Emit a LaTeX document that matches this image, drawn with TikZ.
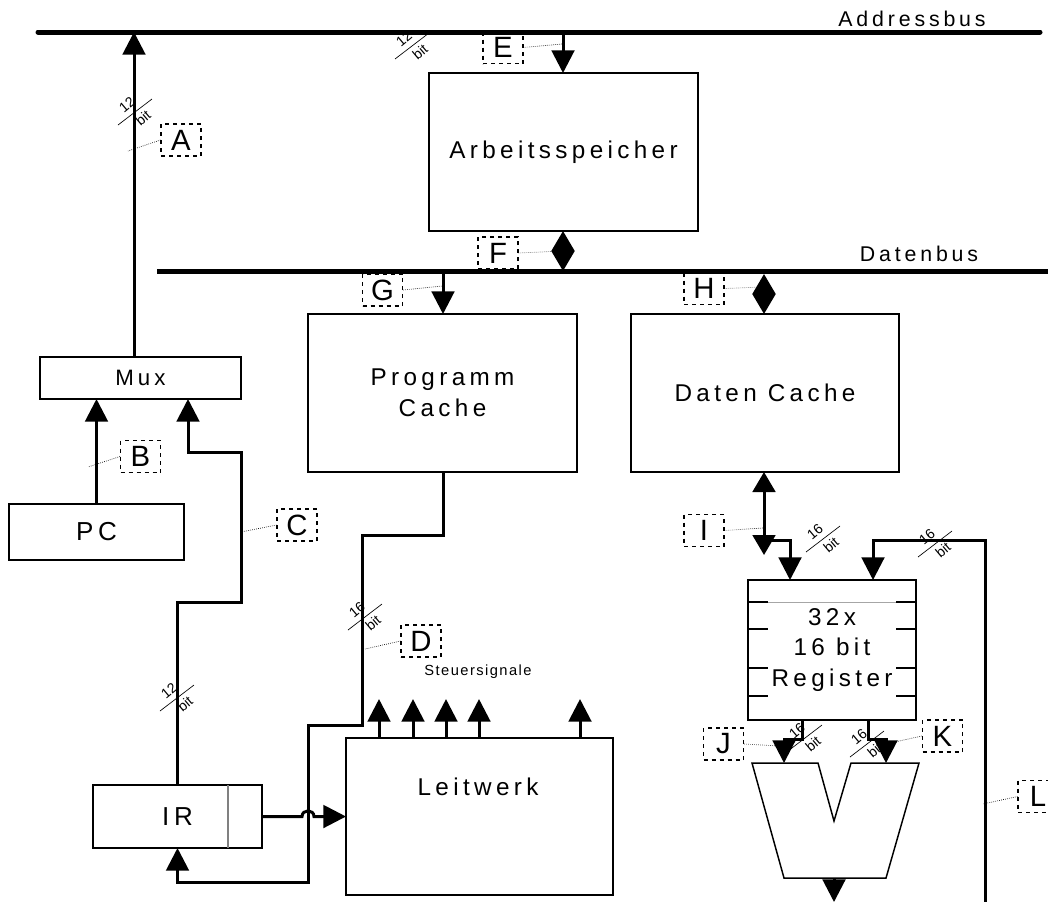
\documentclass[tikz,border=0pt]{standalone}
\usepackage{fontspec}
\setmainfont{Liberation Sans}
\newfontfamily\spacedfont[LetterSpace=18]{Liberation Sans}
\newfontfamily\lightspaced[LetterSpace=10]{Liberation Sans}
\usetikzlibrary{arrows.meta,calc}
\newcommand\mytxt{\spacedfont\fontsize{18.2}{23}\selectfont}
\newcommand\bustxt{\spacedfont\fontsize{16}{20}\selectfont}
\newcommand\muxtxt{\spacedfont\fontsize{16.7}{20}\selectfont}
\newcommand\bigtxt{\spacedfont\fontsize{19.5}{24}\selectfont}
\newcommand\smalltxt{\lightspaced\fontsize{11}{13}\selectfont}
\newcommand\bittxt{\fontsize{10.5}{11}\selectfont}
\newcommand\lbltxt{\fontsize{22}{22}\selectfont}
\tikzset{
  arr/.style={-{Triangle[width=17pt,length=17pt]}},
  darr/.style={{Triangle[width=17pt,length=15pt]}-{Triangle[width=17pt,length=15pt]}},
  box/.style={draw, line width=1.1pt, inner sep=0pt, outer sep=0pt},
  conn/.style={line width=2.25pt},
  bus/.style={line width=3.75pt},
  lbl/.style={draw, dashed, line width=0.8pt, minimum width=30pt, minimum height=24pt, inner sep=0pt, font=\lbltxt},
  leader/.style={densely dotted, line width=0.5pt},
  tick/.style={line width=1.1pt},
  bitmark/.pic={
    \draw[line width=0.5pt] (-17,13) -- (17,-13);
    \node[rotate=40, inner sep=0pt, font=\bittxt] at (-8,-7) {#1};
    \node[rotate=40, inner sep=0pt, font=\bittxt] at (8,6) {bit};
  }
}
\begin{document}
\begin{tikzpicture}[x=0.75pt,y=-0.75pt]
\useasboundingbox (0,0) rectangle (1048,901);
\clip (0,0) rectangle (1048,901);

% ---------- bus coordinates
\coordinate (ab0) at (38,32);
\coordinate (ab1) at (1040,32);
\coordinate (abA) at (134,32);
\coordinate (abE) at (563,32);
\coordinate (db0) at (157,271);
\coordinate (db1) at (1056,271);
\coordinate (dbF) at (563,271);
\coordinate (dbG) at (443,271);
\coordinate (dbH) at (764,274);

% ---------- boxes
\node[box, minimum width=201.75pt, minimum height=118.5pt, font=\mytxt] (arb) at (563.5,152) {Arbeitsspeicher};
\node[box, minimum width=201.75pt, minimum height=118.5pt, font=\mytxt, align=center] (pcache) at (442.5,393) {Programm\\Cache};
\node[box, minimum width=201pt, minimum height=118.5pt, font=\mytxt] (dcache) at (765,393) {Daten Cache};
\node[box, minimum width=150.75pt, minimum height=31.5pt, font=\muxtxt] (mux) at (140.5,378) {Mux};
\node[box, minimum width=131.25pt, minimum height=42pt, font=\bigtxt] (pc) at (96.5,532) {PC};
\node[box, minimum width=126.75pt, minimum height=47.25pt, font=\bigtxt] (ir) at (177.5,816.5) {IR};
\node[box, minimum width=200.25pt, minimum height=117.75pt] (leit) at (479.5,816.5) {};
\node[font=\mytxt] (leittext) at (478,787) {Leitwerk};
\node[box, minimum width=126pt, minimum height=105pt, font=\mytxt, align=center] (reg) at (832,650) {32x\\16 bit\\Register};

% IR divider
\draw[gray, line width=0.8pt] ($(ir.north west)+(135,0)$) -- ($(ir.south west)+(135,0)$);
% register ticks
\foreach \yy in {602,629,668,696} {
  \draw[tick] ($(reg.north west)+(0,\yy-580)$) -- ++(20,0);
  \draw[tick] ($(reg.north east)+(0,\yy-580)$) -- ++(-20,0);
}
\draw[gray!70, line width=0.6pt] ($(reg.north west)+(20,22)$) -- ($(reg.north east)+(-20,22)$);

% ALU
\coordinate (aluJ) at (784,763);
\coordinate (aluK) at (886,763);
\coordinate (aluO) at (834,878);
\coordinate (aluE) at (834,902);
\draw[line width=1.1pt] (752,763) -- (818,763) -- (834,821) -- (851,763) -- (919,763) -- (886,878) -- (784,878) -- cycle;

% ---------- buses
\draw[bus, line cap=round] (ab0) -- (ab1);
\draw[bus] (db0) -- (db1);
\node[font=\bustxt] (abtext) at (912,19) {Addressbus};
\node[font=\bustxt] (dbtext) at (919,254) {Datenbus};

% ---------- connectors
\draw[conn, arr] (mux.north -| abA) -- (abA);
\draw[conn, arr] (pc.north) -- (pc.north |- mux.south);
\coordinate (c1) at (241,602);
\coordinate (c2) at (241,452);
\draw[conn, arr] (ir.north) |- (c1) -- (c2) -| ($(mux.south west)+(148,0)$);
\draw[conn, arr] (abE) -- (arb.north -| abE);
\draw[conn, darr] (arb.south -| dbF) -- (dbF);
\draw[conn, arr] (dbG) -- (pcache.north -| dbG);
\draw[conn, darr] (dbH) -- (dcache.north -| dbH);

\coordinate (d1) at (362,535);
\coordinate (d2) at (308,725);
\coordinate (d3) at (308,882);
\draw[conn, arr] (pcache.south -| dbG) |- (d1) |- (d2) -- (d3) -| (ir.south);
\coordinate (hop0) at (302,816.5);
\coordinate (hop1) at (314,816.5);
\draw[conn, arr] (ir.east) -- (hop0) .. controls (302,809) and (314,809) .. (hop1) -- (leit.west);

\foreach \sx [count=\i] in {379,413,446,479,580} {
  \coordinate (s\i) at (\sx,699);
  \draw[conn, arr] (s\i |- leit.north) -- (s\i);
}
\node[font=\smalltxt] (steuer) at (478,672) {Steuersignale};

\coordinate (iI) at (764,555);
\coordinate (br) at (764,540);
\draw[conn, darr] (dcache.south -| iI) -- (iI);
\draw[conn, arr] (br) -| ($(reg.north west)+(42,0)$);
\coordinate (Lb) at (985,905);
\coordinate (Lt) at (985,540);
\draw[conn, arr] (Lb) -- (Lt) -| ($(reg.north west)+(125,0)$);

\draw[conn, arr] ($(reg.south west)+(54,0)$) -- ++(0,19) -| (aluJ);
\draw[conn, arr] ($(reg.south west)+(120,0)$) -- ++(0,19) -| (aluK);
\draw[conn, arr] (aluO) -- (aluE);

% ---------- bit markers
\pic at (135,112) {bitmark=12};
\pic at (412,46) {bitmark=12};
\pic at (365,617) {bitmark=16};
\pic at (177,698) {bitmark=12};
\pic at (823,539) {bitmark=16};
\pic at (935,544) {bitmark=16};
\pic at (805,738) {bitmark=16};
\pic at (867,744) {bitmark=16};

% ---------- labels with leaders
\node[lbl] (lA) at (181,140) {A};
\coordinate (tA) at (128,151);
\draw[leader] (lA.west) -- (tA);
\node[lbl] (lB) at (140.5,456.5) {B};
\coordinate (tB) at (88,467);
\draw[leader] (lB.west) -- (tB);
\node[lbl] (lC) at (297,525) {C};
\coordinate (tC) at (241,532);
\draw[leader] (lC.west) -- (tC);
\node[lbl] (lD) at (421,641) {D};
\coordinate (tD) at (365,649);
\draw[leader] (lD.west) -- (tD);
\node[lbl] (lE) at (503,47.5) {E};
\coordinate (tE) at (562,44);
\draw[leader] (lE.east) -- (tE);
\node[lbl] (lF) at (498,253) {F};
\coordinate (tF) at (563,251);
\draw[leader] (lF.east) -- (tF);
\node[lbl] (lG) at (382.5,290) {G};
\coordinate (tG) at (442,286);
\draw[leader] (lG.east) -- (tG);
\node[lbl] (lH) at (704,288.5) {H};
\coordinate (tH) at (762,287);
\draw[leader] (lH.east) -- (tH);
\node[lbl] (lI) at (704,530.5) {I};
\coordinate (tI) at (763,528);
\draw[leader] (lI.east) -- (tI);
\node[lbl] (lJ) at (723.5,744) {J};
\coordinate (tJ) at (780,746);
\draw[leader] (lJ.east) -- (tJ);
\node[lbl] (lK) at (942.5,736) {K};
\coordinate (tK) at (890,743);
\draw[leader] (lK.west) -- (tK);
\node[lbl] (lL) at (1038,796.5) {L};
\coordinate (tL) at (983,804);
\draw[leader] (lL.west) -- (tL);
\end{tikzpicture}
\end{document}
